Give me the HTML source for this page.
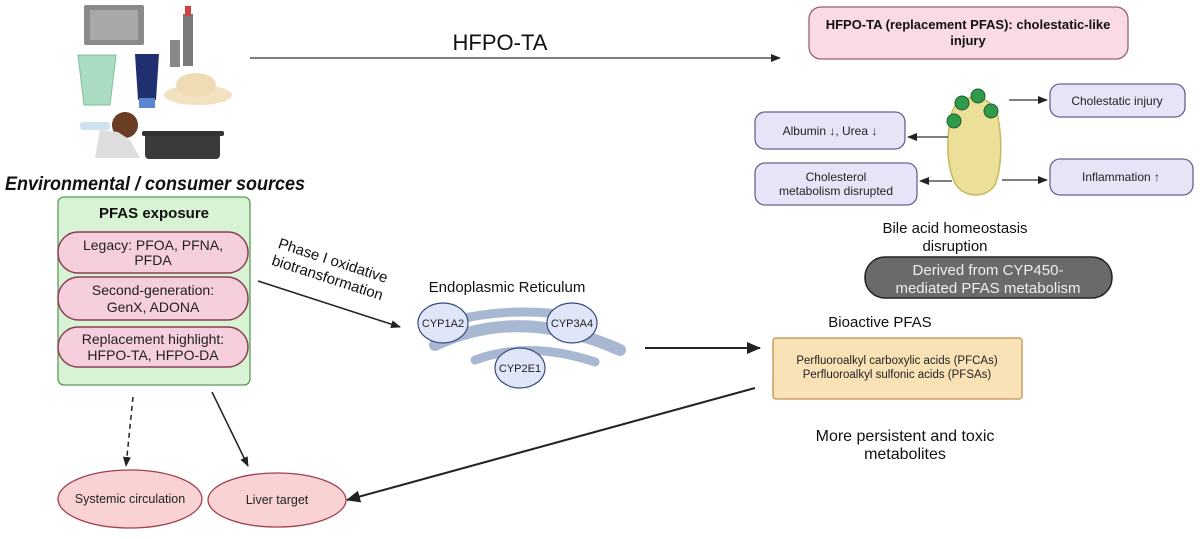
<!DOCTYPE html>
<html><head><meta charset="utf-8"><style>
body{margin:0;background:#fff;}
svg text{font-family:"Liberation Sans",sans-serif;}
</style></head><body>
<svg width="1200" height="534" viewBox="0 0 1200 534" xmlns="http://www.w3.org/2000/svg">
<defs>
<marker id="a" markerWidth="10" markerHeight="8" refX="9" refY="4" orient="auto" markerUnits="userSpaceOnUse"><path d="M0,0 L10,4 L0,8 z" fill="#222"/></marker>
<marker id="b" markerWidth="14" markerHeight="12" refX="13" refY="6" orient="auto" markerUnits="userSpaceOnUse"><path d="M0,0 L14,6 L0,12 z" fill="#222"/></marker>
</defs>
<!-- icons -->
<rect x="84" y="5" width="60" height="40" fill="#8a8a8a" rx="2"/>
<rect x="90" y="10" width="48" height="30" fill="#a8a8a8"/>
<rect x="183" y="14" width="10" height="52" fill="#7a7a7a"/>
<rect x="185" y="6" width="6" height="10" fill="#d04040"/>
<rect x="170" y="40" width="10" height="27" fill="#888"/>
<path d="M78,55 L116,55 L110,105 L84,105 z" fill="#a9dcc0" stroke="#7fbf9a"/>
<path d="M135,54 L159,54 L156,100 L138,100 z" fill="#1f2f6f"/>
<rect x="139" y="98" width="16" height="10" fill="#5a86d0"/>
<ellipse cx="198" cy="95" rx="34" ry="10" fill="#f3e2c0"/>
<ellipse cx="196" cy="85" rx="20" ry="12" fill="#efdcb5"/>
<rect x="80" y="122" width="30" height="8" rx="3" fill="#cfe2ef"/>
<circle cx="125" cy="125" r="13" fill="#6b3d22"/>
<path d="M95,158 L100,130 L118,132 L130,140 L140,158 z" fill="#ddd"/>
<rect x="145" y="133" width="75" height="26" rx="4" fill="#3a3a3a"/>
<rect x="142" y="131" width="82" height="5" rx="2" fill="#333"/>
<text x="5" y="190" font-size="19" font-weight="bold" font-style="italic" fill="#111" textLength="300" lengthAdjust="spacingAndGlyphs">Environmental / consumer sources</text>
<!-- HFPO-TA arrow -->
<line x1="250" y1="58" x2="780" y2="58" stroke="#333" stroke-width="1.3" marker-end="url(#a)"/>
<text x="500" y="50" font-size="22" text-anchor="middle" fill="#111">HFPO-TA</text>
<!-- top pink box -->
<rect x="809" y="7" width="319" height="52" rx="12" fill="#fadbe5" stroke="#9a6070" stroke-width="1.3"/>
<text x="968" y="29" font-size="13" font-weight="bold" text-anchor="middle" fill="#111">HFPO-TA (replacement PFAS): cholestatic-like</text>
<text x="968" y="45" font-size="13" font-weight="bold" text-anchor="middle" fill="#111">injury</text>
<!-- liver blob -->
<path d="M952,112 C946,135 946,165 955,183 C962,197 985,200 995,185 C1003,165 1002,130 996,110 C985,92 958,94 952,112 z" fill="#ecdf98" stroke="#c8b860" stroke-width="1.5"/>
<circle cx="954" cy="121" r="7" fill="#2f9a4a" stroke="#1d5f2e"/>
<circle cx="962" cy="103" r="7" fill="#2f9a4a" stroke="#1d5f2e"/>
<circle cx="978" cy="96" r="7" fill="#2f9a4a" stroke="#1d5f2e"/>
<circle cx="991" cy="111" r="7" fill="#2f9a4a" stroke="#1d5f2e"/>
<g fill="#e8e4f8" stroke="#6a6090" stroke-width="1.3">
<rect x="1050" y="84" width="135" height="33" rx="10"/>
<rect x="755" y="112" width="150" height="37" rx="10"/>
<rect x="755" y="163" width="162" height="42" rx="10"/>
<rect x="1050" y="159" width="143" height="36" rx="10"/>
</g>
<g font-size="12" text-anchor="middle" fill="#222">
<text x="1117" y="105">Cholestatic injury</text>
<text x="830" y="135">Albumin ↓, Urea ↓</text>
<text x="836" y="181">Cholesterol</text>
<text x="836" y="195">metabolism disrupted</text>
<text x="1121" y="181">Inflammation ↑</text>
</g>
<g stroke="#333" stroke-width="1.2">
<line x1="1009" y1="100" x2="1047" y2="100" marker-end="url(#a)"/>
<line x1="948" y1="137" x2="908" y2="137" marker-end="url(#a)"/>
<line x1="952" y1="181" x2="920" y2="181" marker-end="url(#a)"/>
<line x1="1002" y1="180" x2="1047" y2="180" marker-end="url(#a)"/>
</g>
<text x="955" y="233" font-size="15" text-anchor="middle" fill="#111">Bile acid homeostasis</text>
<text x="955" y="251" font-size="15" text-anchor="middle" fill="#111">disruption</text>
<rect x="865" y="257" width="247" height="41" rx="20" fill="#6a6a6a" stroke="#222" stroke-width="1.5"/>
<text x="988" y="275" font-size="15" text-anchor="middle" fill="#eee">Derived from CYP450-</text>
<text x="988" y="293" font-size="15" text-anchor="middle" fill="#eee">mediated PFAS metabolism</text>
<!-- bioactive -->
<text x="880" y="327" font-size="15" text-anchor="middle" fill="#111">Bioactive PFAS</text>
<rect x="773" y="338" width="249" height="61" rx="3" fill="#f9e2b5" stroke="#c9a060" stroke-width="1.5"/>
<text x="897" y="364" font-size="11.5" text-anchor="middle" fill="#222">Perfluoroalkyl carboxylic acids (PFCAs)</text>
<text x="897" y="378" font-size="11.5" text-anchor="middle" fill="#222">Perfluoroalkyl sulfonic acids (PFSAs)</text>
<text x="905" y="441" font-size="16" text-anchor="middle" fill="#111">More persistent and toxic</text>
<text x="905" y="459" font-size="16" text-anchor="middle" fill="#111">metabolites</text>
<!-- ER -->
<text x="507" y="292" font-size="15" text-anchor="middle" fill="#111">Endoplasmic Reticulum</text>
<path d="M435,345 Q520,305 620,350" fill="none" stroke="#a8b8d2" stroke-width="12" stroke-linecap="round"/>
<path d="M455,320 Q520,305 585,318" fill="none" stroke="#a8b8d2" stroke-width="9" stroke-linecap="round"/>
<path d="M475,360 Q530,340 595,362" fill="none" stroke="#a8b8d2" stroke-width="9" stroke-linecap="round"/>
<g fill="#dfe6f7" stroke="#3a4a80" stroke-width="1.2">
<ellipse cx="443" cy="323" rx="25" ry="20"/>
<ellipse cx="572" cy="323" rx="25" ry="20"/>
<ellipse cx="520" cy="368" rx="25" ry="20"/>
</g>
<g font-size="11" text-anchor="middle" fill="#222">
<text x="443" y="327">CYP1A2</text>
<text x="572" y="327">CYP3A4</text>
<text x="520" y="372">CYP2E1</text>
</g>
<line x1="645" y1="348" x2="760" y2="348" stroke="#222" stroke-width="2" marker-end="url(#b)"/>
<!-- left box -->
<rect x="58" y="197" width="192" height="188" rx="6" fill="#d8f2d4" stroke="#5a9a5a" stroke-width="1.3"/>
<text x="154" y="218" font-size="15" font-weight="bold" text-anchor="middle" fill="#111">PFAS exposure</text>
<g fill="#f5cfdc" stroke="#8a4055" stroke-width="1.5">
<rect x="58" y="232" width="190" height="41" rx="20"/>
<rect x="58" y="277" width="190" height="43" rx="21"/>
<rect x="58" y="327" width="190" height="40" rx="20"/>
</g>
<g font-size="14" text-anchor="middle" fill="#222">
<text x="153" y="250">Legacy: PFOA, PFNA,</text>
<text x="153" y="265">PFDA</text>
<text x="153" y="295">Second-generation:</text>
<text x="153" y="312">GenX, ADONA</text>
<text x="153" y="344">Replacement highlight:</text>
<text x="153" y="360">HFPO-TA, HFPO-DA</text>
</g>
<line x1="258" y1="281" x2="400" y2="327" stroke="#222" stroke-width="1.5" marker-end="url(#a)"/>
<g transform="rotate(18 330 270)" font-size="15" text-anchor="middle" fill="#111">
<text x="330" y="265">Phase I oxidative</text>
<text x="330" y="283">biotransformation</text>
</g>
<!-- bottom -->
<line x1="133" y1="397" x2="126" y2="466" stroke="#222" stroke-width="1.5" stroke-dasharray="5,4" marker-end="url(#a)"/>
<line x1="212" y1="392" x2="248" y2="466" stroke="#222" stroke-width="1.5" marker-end="url(#a)"/>
<line x1="755" y1="388" x2="347" y2="500" stroke="#222" stroke-width="2" marker-end="url(#b)"/>
<ellipse cx="130" cy="499" rx="72" ry="29" fill="#f9d3d3" stroke="#a04050" stroke-width="1.3"/>
<ellipse cx="277" cy="500" rx="69" ry="27" fill="#f9d3d3" stroke="#a04050" stroke-width="1.3"/>
<text x="130" y="503" font-size="12.5" text-anchor="middle" fill="#222">Systemic circulation</text>
<text x="277" y="504" font-size="12.5" text-anchor="middle" fill="#222">Liver target</text>
</svg>
</body></html>
